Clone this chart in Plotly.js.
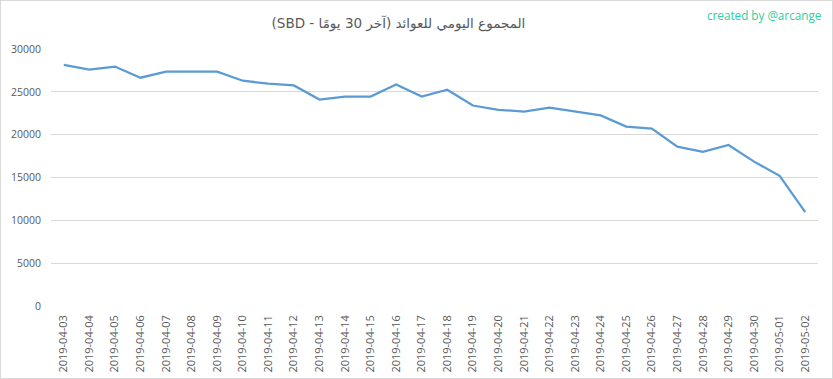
<!DOCTYPE html>
<html><head><meta charset="utf-8">
<script src="https://cdn.plot.ly/plotly-3.0.1.min.js"></script>
<style>
html,body{margin:0;padding:0;background:#fff;}
#chart{width:833px;height:379px;box-sizing:border-box;border:1px solid #d9d9d9;}
</style></head><body>
<div id="chart"></div>
<script>
const dates = ["2019-04-03","2019-04-04","2019-04-05","2019-04-06","2019-04-07","2019-04-08","2019-04-09","2019-04-10","2019-04-11","2019-04-12","2019-04-13","2019-04-14","2019-04-15","2019-04-16","2019-04-17","2019-04-18","2019-04-19","2019-04-20","2019-04-21","2019-04-22","2019-04-23","2019-04-24","2019-04-25","2019-04-26","2019-04-27","2019-04-28","2019-04-29","2019-04-30","2019-05-01","2019-05-02"];
const rewards = [28150,27600,27950,26650,27350,27350,27350,26300,25950,25750,24100,24450,24450,25850,24450,25250,23400,22900,22700,23150,22700,22250,20950,20700,18600,18000,18800,16850,15200,10950];
const yTicks = [0,5000,10000,15000,20000,25000,30000];
const titleText = "المجموع اليومي للعوائد (آخر 30 يومًا - SBD)";
const creditText = "created by @arcange";

const data = [{
  x: dates, y: rewards, type: 'scatter', mode: 'lines',
  line: {color: '#5B9BD5', width: 2.25}, hoverinfo: 'x+y'
}];
const layout = {
  width: 831, height: 377,
  margin: {l: 50, r: 14, t: 48, b: 72},
  paper_bgcolor: '#fff', plot_bgcolor: '#fff',
  showlegend: false,
  title: {text: "\u202B" + titleText + "\u202C", x: 0.453, xref: 'paper', xanchor: 'center', y: 0.94, yanchor: 'middle',
          font: {family: 'DejaVu Sans, sans-serif', size: 13.5, color: '#595959'}},
  xaxis: {type: 'category', categoryarray: dates, range: [-0.5, dates.length - 0.5],
          showgrid: false, zeroline: false, showline: false, ticks: '',
          tickangle: -90, tickfont: {family: 'Open Sans, sans-serif', size: 11, color: '#595959'},
          ticklabelstandoff: 6, fixedrange: true},
  yaxis: {range: [0, 30000], tickvals: yTicks, ticktext: yTicks.map(String),
          showgrid: true, gridcolor: '#d9d9d9', gridwidth: 1, zeroline: false, showline: false,
          ticks: '', tickfont: {family: 'Open Sans, sans-serif', size: 10.5, color: '#595959'},
          ticklabelstandoff: 9, fixedrange: true},
  annotations: [{text: creditText, xref: 'paper', yref: 'paper', x: 1.007, y: 1.133,
                 xanchor: 'right', yanchor: 'middle', showarrow: false,
                 font: {family: 'Open Sans, sans-serif', size: 11.7, color: '#2AD0A0'}}]
};
Plotly.newPlot('chart', data, layout, {displayModeBar: false, staticPlot: true});
</script>
</body></html>
